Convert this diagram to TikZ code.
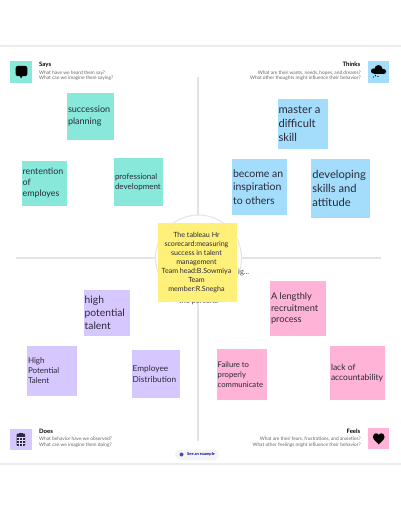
\documentclass[tikz,border=0pt]{standalone}
\usepackage{fontspec}
\setmainfont{Lato}
\definecolor{tealn}{HTML}{88E8DA}
\definecolor{bluen}{HTML}{A3DDFB}
\definecolor{purpn}{HTML}{D6C8FF}
\definecolor{pinkn}{HTML}{FFB3D6}
\definecolor{yelln}{HTML}{FFF07A}
\definecolor{rulen}{HTML}{E4E4E4}
\definecolor{inkn}{HTML}{2A2A3A}
\tikzset{
  sticky/.style={inner sep=0pt,outer sep=0pt,text=inkn},
  hint/.style={font=\fontsize{4.8}{5.7}\selectfont,text=black!60,inner sep=0pt},
  head/.style={font=\fontsize{6}{7}\selectfont\bfseries,text=black,inner sep=0pt},
  axis/.style={draw=rulen,line width=1.2pt}
}
\newcommand{\stickynote}[8]{%
  \fill[#6] (#2,#3) rectangle (#4,#5);
  \pgfmathsetmacro{\lineht}{#7*1.25}
  \node[sticky,anchor=west,font=\fontsize{#7}{\lineht}\selectfont,align=left] (#1) at ({#2+1},{(#3+#5)/2}) {#8};
}
\begin{document}
\begin{tikzpicture}[x=1pt,y=-1pt]
\useasboundingbox (0,0) rectangle (401,519);
\fill[white] (0,0) rectangle (401,519);
\fill[rulen!70] (0,45) rectangle (401,47);
\fill[rulen!70] (0,462.5) rectangle (401,464.5);
\coordinate (vtop) at (198,77);
\coordinate (vbot) at (198,441);
\coordinate (hl) at (16,258);
\coordinate (hr) at (381,258);
\draw[axis] (vtop) -- (vbot);
\draw[axis] (hl) -- (hr);
\node[circle,fill=white,draw=rulen,line width=1pt,minimum size=86pt,inner sep=0pt] (persona) at (198.5,258) {};
\node[font=\fontsize{7.5}{9}\selectfont,text=black!70,inner sep=0pt,anchor=west] (frag1) at (238,272) {ig...};
\node[font=\fontsize{7.5}{9}\selectfont,text=black!70,inner sep=0pt] (frag2) at (198.5,301.5) {the persona};
% stickies
\stickynote{s1}{67}{92.5}{114}{139.5}{tealn}{9}{succession\\planning}
\stickynote{s2}{21.7}{160.7}{67}{206}{tealn}{8.8}{rentention\\of\\employes}
\stickynote{s3}{114}{157.5}{162.7}{206}{tealn}{8}{professional\\development}
\stickynote{t1}{277.5}{98.7}{328.3}{149.3}{bluen}{11.2}{master a\\difficult\\skill}
\stickynote{t2}{232}{159.3}{287.3}{215}{bluen}{10.5}{become an\\inspiration\\to others}
\stickynote{t3}{311.3}{159.3}{370}{217.7}{bluen}{11.2}{developing\\skills and\\attitude}
\stickynote{d1}{83.7}{289.7}{130}{336}{purpn}{10.3}{high\\potential\\talent}
\stickynote{d2}{27}{346}{77}{395.7}{purpn}{8}{High\\Potential\\Talent}
\stickynote{d3}{131.7}{349.7}{180}{398.3}{purpn}{8.3}{Employee\\Distribution}
\stickynote{f1}{270}{280.7}{325.7}{336.3}{pinkn}{9.2}{A lengthly\\recruitment\\process}
\stickynote{f2}{216.7}{349.3}{267.3}{400.3}{pinkn}{7.7}{Failure to\\properly\\communicate}
\stickynote{f3}{330}{346}{384.7}{400.3}{pinkn}{8.5}{lack of\\accountability}
\fill[yelln] (157.7,223) rectangle (236.7,301.7);
\node[sticky,align=center,font=\fontsize{7.1}{9.05}\selectfont] (center) at (196.5,262.5) {The tableau Hr\\scorecard:measuring\\success in talent\\management\\Team head:B.Sowmiya\\Team\\member:R.Snegha};
% headers
\fill[tealn] (10.3,61.5) rectangle (31.7,82.5);
\fill[black,rounded corners=2pt] (15.7,66) rectangle (27.3,76);
\fill[black] (19.5,75) -- (23,75) -- (21,78.5) -- cycle;
\node[head,anchor=west] (says) at (39,64.7) {Says};
\node[hint,anchor=north west,align=left] (saysh) at (39,70.5) {What have we heard them say?\\What can we imagine them saying?};
\fill[bluen] (368,61.5) rectangle (389,82.5);
\fill[black] (373.5,71) circle (2.6pt) (378.5,69) circle (4pt) (383.5,71.5) circle (2.6pt);
\fill[black] (373.5,71) rectangle (383.5,74);
\fill[black] (375.5,75.6) circle (0.7pt) (378,76.5) circle (0.7pt) (373.5,77) circle (0.6pt);
\node[head,anchor=east] (thinks) at (360.5,64.7) {Thinks};
\node[hint,anchor=north east,align=right] (thinksh) at (361,70.5) {What are their wants, needs, hopes, and dreams?\\What other thoughts might influence their behavior?};
\fill[purpn] (10.3,428.5) rectangle (31.7,450);
\fill[inkn,rounded corners=0.8pt] (16.7,433.5) rectangle (25,445.8);
\fill[inkn] (18.8,432.5) rectangle (22.9,434.5);
\draw[purpn!70,line width=0.3pt] (16.7,437) -- (25,437) (16.7,440) -- (25,440) (16.7,443) -- (25,443) (19.5,437) -- (19.5,445.8) (22.3,437) -- (22.3,445.8);
\node[head,anchor=west] (does) at (39,431.3) {Does};
\node[hint,anchor=north west,align=left] (doesh) at (39,437) {What behavior have we observed?\\What can we imagine them doing?};
\fill[pinkn] (368,427.5) rectangle (389,449);
\fill[black] (373,437) .. controls (373,432.5) and (378,432.5) .. (378.7,435) .. controls (379.4,432.5) and (384.5,432.5) .. (384.5,437) .. controls (384.5,440) and (380,442.5) .. (378.7,444.5) .. controls (377.4,442.5) and (373,440) .. (373,437);
\node[head,anchor=east] (feels) at (360.5,431.3) {Feels};
\node[hint,anchor=north east,align=right] (feelsh) at (361,437) {What are their fears, frustrations, and anxieties?\\What other feelings might influence their behavior?};
% example pill
\fill[rulen!40,rounded corners=5pt] (175,449.5) rectangle (219,460);
\fill[blue!60!black!70] (181.5,454.5) circle (2pt);
\node[font=\fontsize{4}{4.5}\selectfont\bfseries,text=blue!60!black,inner sep=0pt,anchor=west] (example) at (187,454.5) {See an example};
\end{tikzpicture}
\end{document}
